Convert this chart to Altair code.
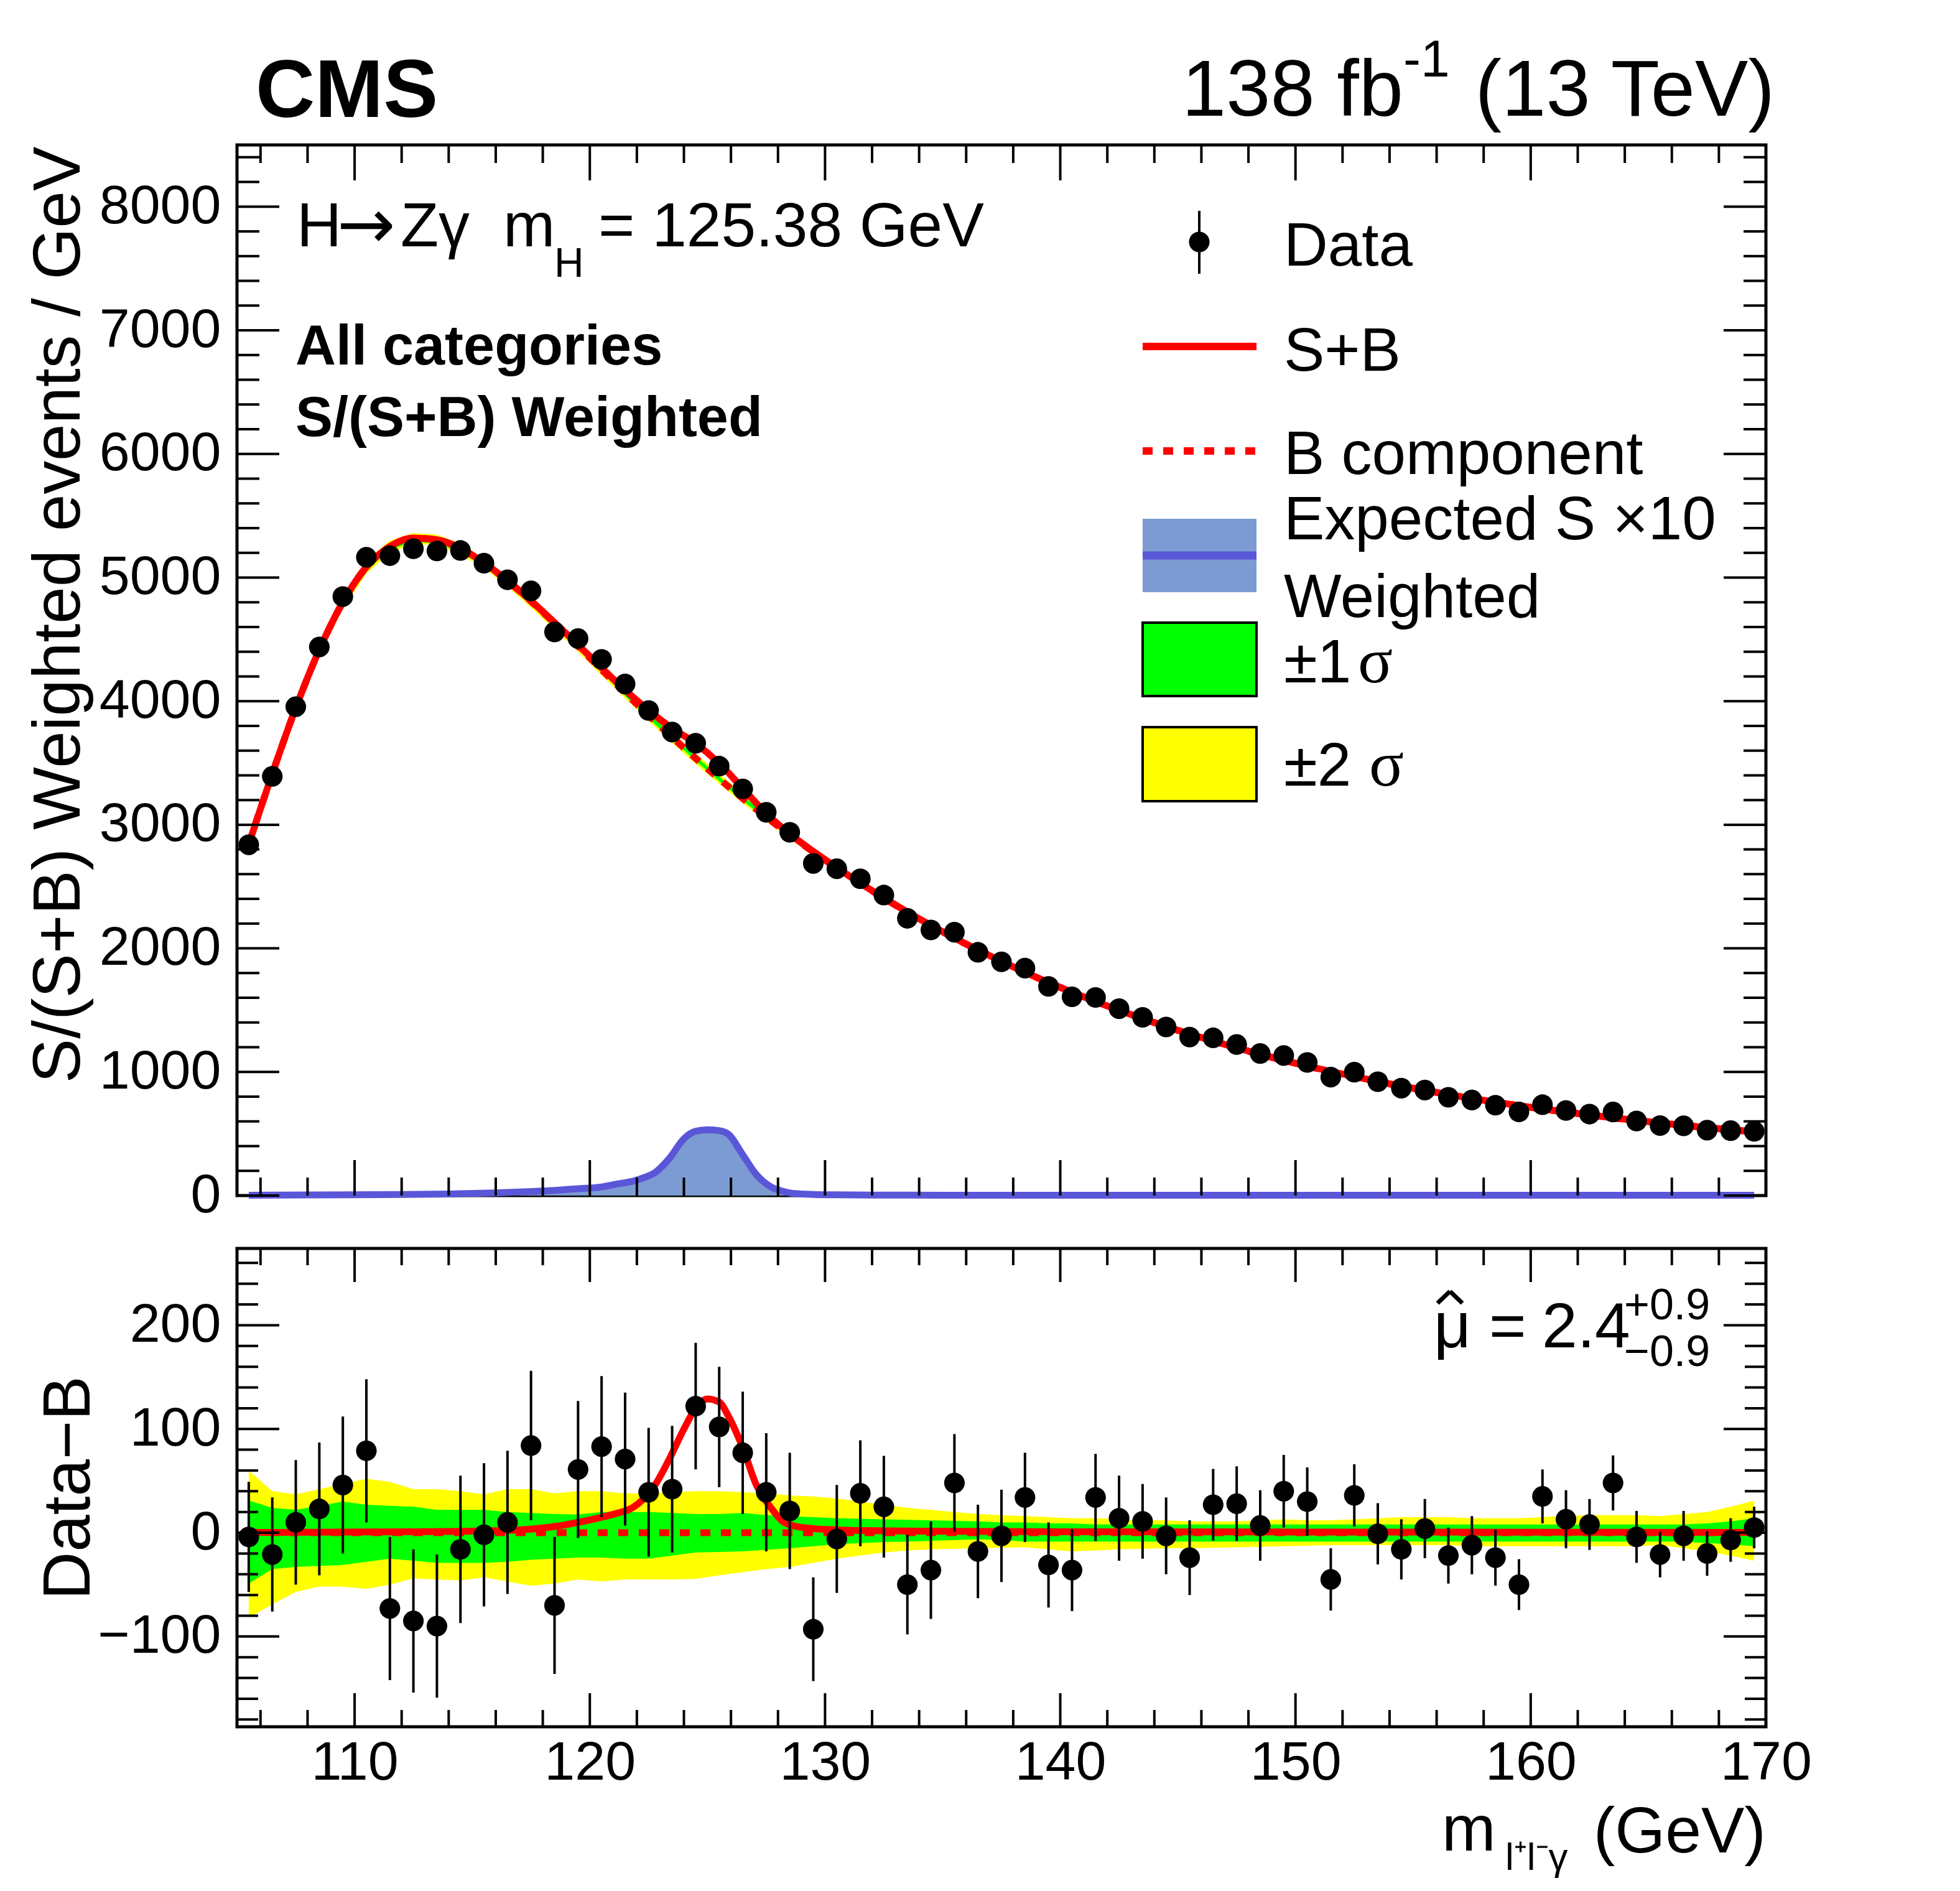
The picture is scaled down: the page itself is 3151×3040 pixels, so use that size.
import altair as alt
import pandas as pd

FONT = "Liberation Sans"

# ---------------- data ----------------
mass = [105.5, 106.5, 107.5, 108.5, 109.5, 110.5, 111.5, 112.5, 113.5, 114.5,
        115.5, 116.5, 117.5, 118.5, 119.5, 120.5, 121.5, 122.5, 123.5, 124.5,
        125.5, 126.5, 127.5, 128.5, 129.5, 130.5, 131.5, 132.5, 133.5, 134.5,
        135.5, 136.5, 137.5, 138.5, 139.5, 140.5, 141.5, 142.5, 143.5, 144.5,
        145.5, 146.5, 147.5, 148.5, 149.5, 150.5, 151.5, 152.5, 153.5, 154.5,
        155.5, 156.5, 157.5, 158.5, 159.5, 160.5, 161.5, 162.5, 163.5, 164.5,
        165.5, 166.5, 167.5, 168.5, 169.5]

data_top = [2838, 3391, 3955, 4438, 4846, 5164, 5177, 5233, 5215, 5219,
            5116, 4982, 4892, 4560, 4506, 4338, 4139, 3924, 3750, 3659,
            3474, 3290, 3101, 2939, 2687, 2644, 2563, 2431, 2243, 2149,
            2131, 1968, 1891, 1840, 1692, 1608, 1603, 1512, 1442, 1364,
            1282, 1276, 1222, 1149, 1133, 1077, 958, 998, 921, 869,
            854, 795, 773, 731, 677, 735, 688, 659, 676, 603,
            566, 564, 529, 525, 520]

data_err = [53, 55, 60, 64, 66, 69, 69, 69, 69, 71,
            69, 69, 72, 66, 66, 68, 64, 62, 61, 61,
            58, 59, 57, 56, 50, 52, 51, 49, 48, 47,
            47, 45, 44.5, 43, 41, 39.5, 42, 41, 36, 37,
            36, 34.5, 36, 34, 35, 33, 30, 30, 29.5, 29,
            28.5, 27, 28, 27, 24.5, 26, 28, 24.5, 26.5, 25,
            22, 24, 21.5, 21, 20]

data_minus_b = [-4, -21, 10, 23, 46, 79, -73, -85, -90, -16,
                -2, 10, 84, -70, 61, 83, 71, 39, 42, 122,
                102, 77, 39, 21, -93, -6, 38, 25, -50, -36,
                48, -18, -3, 34, -31, -36, 34, 14, 11, -3,
                -24, 27, 28, 7, 40, 30, -45, 36, -1, -16,
                4, -22, -12, -24, -50, 35, 13, 8, 48, -4,
                -21, -3, -20, -7, 5]

bkg_fit = [2842, 3412, 3945, 4415, 4800, 5085, 5250, 5318, 5305, 5235,
           5118, 4972, 4808, 4630, 4445, 4255, 4068, 3885, 3708, 3537,
           3372, 3213, 3062, 2918, 2780, 2650, 2525, 2406, 2293, 2185,
           2083, 1986, 1894, 1806, 1723, 1644, 1569, 1498, 1431, 1367,
           1306, 1249, 1194, 1142, 1093, 1047, 1003, 962, 922, 885,
           850, 817, 785, 755, 727, 700, 675, 651, 628, 607,
           587, 567, 549, 532, 515]

sb_fit = [2842, 3412, 3946, 4416, 4801, 5086, 5251, 5319, 5306, 5236,
          5119, 4974, 4812, 4636, 4455, 4270, 4090, 3925, 3780, 3658,
          3497, 3295, 3092, 2926, 2784, 2653, 2527, 2408, 2294, 2186,
          2084, 1987, 1895, 1807, 1724, 1645, 1570, 1499, 1432, 1368,
          1307, 1250, 1195, 1143, 1094, 1048, 1004, 963, 923, 886,
          851, 818, 786, 756, 728, 701, 676, 652, 629, 608,
          588, 568, 550, 533, 516]

band2_up = [60, 40, 37, 42, 47, 52, 49, 42, 42, 40,
            37, 42, 42, 38, 40, 40, 38, 38, 39, 40,
            40, 39, 38, 36, 35, 33, 30, 27, 24, 22,
            20, 18, 17, 16, 15, 14, 14, 13, 12, 12,
            11, 11, 11, 12, 13, 12, 12, 13, 14, 15,
            15, 15, 14, 14, 14, 15, 16, 17, 17, 17,
            16, 18, 20, 25, 31]
band1_up = [31, 24, 22, 26, 30, 27, 26, 25, 22, 22,
            22, 20, 19, 18, 17.5, 20, 20, 20, 19, 18,
            18, 19, 17, 16, 15, 14, 13.5, 13, 12.5, 12,
            11.5, 11, 10, 10, 9, 9, 8, 8, 8, 8,
            8, 8, 8, 8, 8, 8, 8, 8, 8, 8,
            8, 8, 8, 8, 8, 8, 8, 8, 8, 8,
            8, 8, 9, 11, 14]
band1_dn = [-49, -35, -33, -32, -31, -28, -25, -27, -29, -29,
            -29, -28, -26, -25, -24, -24, -25, -25, -22, -19,
            -18.5, -18, -16.5, -15, -13, -11, -10, -9, -8.5, -7.7,
            -7, -6.4, -7, -8.5, -8.5, -8.5, -8.5, -8.5, -8.5, -8.5,
            -8.5, -8.5, -8.5, -8.5, -8.5, -8.5, -8.5, -8.5, -8.5, -8.5,
            -8.5, -8.5, -8.5, -8.5, -8.5, -8.5, -8.5, -8.5, -8.5, -8.5,
            -8.5, -8.5, -10, -11, -13]
band2_dn = [-82, -69, -57, -52, -52, -54, -50, -44, -45, -46,
            -43, -47, -51, -49, -45, -47, -45, -45, -45, -44.5,
            -41, -38, -35, -33, -29, -25, -22, -19, -17, -16,
            -15.5, -15, -14.5, -14, -16, -18, -17, -16, -15.5, -15,
            -15, -14.5, -14, -13.5, -13, -12.5, -12, -12, -12, -12,
            -12, -12, -13, -13, -13, -13, -13, -13, -13, -13,
            -12, -15, -18, -22, -27]

# signal shapes on a finer grid
sig_mass = [105.5, 108, 111, 114, 116, 117.5, 118.5, 119.5, 120.5, 121.2,
            121.8, 122.3, 122.8, 123.4, 124.0, 124.5, 125.0, 125.5, 125.9, 126.5,
            127.1, 127.7, 128.2, 128.7, 129.5, 130.5, 132, 135, 140, 150,
            160, 169.5]
sig_fitted = [0.3, 0.5, 0.8, 1.2, 2.0, 3.5, 6, 10, 15, 19,
              24, 33, 47, 72, 100, 120, 129, 126, 112, 82,
              45, 24, 11, 6.5, 4, 2.8, 2, 1.4, 1.0, 0.7,
              0.5, 0.4]
sig_expected_x10 = [3, 5, 8, 13, 22, 33, 42, 55, 70, 95,
                    115, 145, 190, 305, 460, 520, 532, 525, 495, 330,
                    165, 70, 35, 16, 9, 6, 4, 3, 3, 2,
                    2, 2]

# axis ticks
x_major = [110, 120, 130, 140, 150, 160, 170]
x_minor = [106, 108, 112, 114, 116, 118, 122, 124, 126, 128, 132, 134, 136, 138,
           142, 144, 146, 148, 152, 154, 156, 158, 162, 164, 166, 168]
yt_major = [0, 1000, 2000, 3000, 4000, 5000, 6000, 7000, 8000]
yt_minor = [200, 400, 600, 800, 1200, 1400, 1600, 1800, 2200, 2400, 2600, 2800,
            3200, 3400, 3600, 3800, 4200, 4400, 4600, 4800, 5200, 5400, 5600, 5800,
            6200, 6400, 6600, 6800, 7200, 7400, 7600, 7800, 8200, 8400]
yb_major = [-100, 0, 100, 200]
yb_minor = [-180, -160, -140, -120, -80, -60, -40, -20, 20, 40, 60, 80,
            120, 140, 160, 180, 220, 240, 260]

# ---------------- tables ----------------
bins = pd.DataFrame({
    "m": mass, "d": data_top, "e": data_err, "r": data_minus_b,
    "b": bkg_fit, "sb": sb_fit,
    "u2": band2_up, "u1": band1_up, "d1": band1_dn, "d2": band2_dn,
})
bins["d_lo"] = bins["d"] - bins["e"]
bins["d_hi"] = bins["d"] + bins["e"]
bins["r_lo"] = bins["r"] - bins["e"]
bins["r_hi"] = bins["r"] + bins["e"]
bins["t2_lo"] = bins["b"] + bins["d2"]
bins["t2_hi"] = bins["b"] + bins["u2"]
bins["t1_lo"] = bins["b"] + bins["d1"]
bins["t1_hi"] = bins["b"] + bins["u1"]
sig = pd.DataFrame({"m": sig_mass, "fit": sig_fitted, "exp": sig_expected_x10})
ONE = pd.DataFrame({"k": [0]})

# ---------------- geometry / style ----------------
W, HT, HB = 2458, 1689, 769
RED = "#ff0000"
BLUE_FILL = "#7b9bd2"
BLUE_LINE = "#5a56d8"
LW = 11

xs = alt.Scale(domain=[105, 170], nice=False, zero=False)
yts = alt.Scale(domain=[0, 8500], nice=False, zero=False)
ybs = alt.Scale(domain=[-187, 274], nice=False, zero=False)

YT_AXIS = alt.Axis(values=yt_major, format="d", ticks=False, domain=False, grid=False,
                   labelFontSize=88, labelFont=FONT, labelColor="black", labelPadding=26,
                   labelOverlap=False, labelLimit=1000,
                   title="S/(S+B) Weighted events / GeV", titleFont=FONT, titleFontSize=107,
                   titleFontWeight="normal", titleColor="black", titleAngle=270,
                   titleAlign="right", titleBaseline="alphabetic", titleX=-254, titleY=2)
YB_AXIS = alt.Axis(values=yb_major, format="d", ticks=False, domain=False, grid=False,
                   labelFontSize=88, labelFont=FONT, labelColor="black", labelPadding=26,
                   labelOverlap=False, labelLimit=1000,
                   title="Data\u2212B", titleFont=FONT, titleFontSize=107,
                   titleFontWeight="normal", titleColor="black", titleAngle=270,
                   titleAlign="center", titleBaseline="alphabetic", titleX=-238, titleY=HB / 2)
XB_AXIS = alt.Axis(values=x_major, format="d", ticks=False, domain=False, grid=False,
                   labelFontSize=88, labelFont=FONT, labelColor="black", labelPadding=14,
                   labelFlush=False, labelOverlap=False, labelLimit=1000, title=None)


def xt(f):
    return alt.X(f + ":Q", scale=xs, axis=None)


def yt(f):
    return alt.Y(f + ":Q", scale=yts, axis=YT_AXIS)


def xb(f):
    return alt.X(f + ":Q", scale=xs, axis=XB_AXIS)


def yb(f):
    return alt.Y(f + ":Q", scale=ybs, axis=YB_AXIS)


def txt(s, x, y, size, weight="normal", align="left", font=FONT):
    return alt.Chart(ONE).mark_text(text=s, fontSize=size, fontWeight=weight, font=font,
                                    align=align, baseline="alphabetic", color="black").encode(
        x=alt.value(x), y=alt.value(y))


def seg(x1, y1, x2, y2, width, color="black"):
    return alt.Chart(ONE).mark_rule(color=color, strokeWidth=width).encode(
        x=alt.value(x1), y=alt.value(y1), x2=alt.value(x2), y2=alt.value(y2))


def tick_layers(xenc, yenc, H, xmaj_len, xmin_len, ymaj_len, ymin_len, ymaj, ymin):
    out = []
    for vals, L in ((x_major, xmaj_len), (x_minor, xmin_len)):
        base = alt.Chart(pd.DataFrame({"v": vals}))
        out.append(base.mark_rule(color="black", strokeWidth=4).encode(
            x=xenc("v"), y=alt.value(H), y2=alt.value(H - L)))
        out.append(base.mark_rule(color="black", strokeWidth=4).encode(
            x=xenc("v"), y=alt.value(0), y2=alt.value(L)))
    for vals, L in ((ymaj, ymaj_len), (ymin, ymin_len)):
        base = alt.Chart(pd.DataFrame({"v": vals}))
        out.append(base.mark_rule(color="black", strokeWidth=4).encode(
            y=yenc("v"), x=alt.value(0), x2=alt.value(L)))
        out.append(base.mark_rule(color="black", strokeWidth=4).encode(
            y=yenc("v"), x=alt.value(W), x2=alt.value(W - L)))
    return out


# ---------------- top panel ----------------
tb = alt.Chart(bins)
ts = alt.Chart(sig)
top_layers = [
    # pin the page layout (invisible, white)
    alt.Chart(ONE).mark_rule(color="white", strokeWidth=1).encode(
        x=alt.value(-370), x2=alt.value(-369), y=alt.value(-222)),
    tb.mark_area(color="#ffff00", opacity=1).encode(x=xt("m"), y=yt("t2_lo"), y2="t2_hi"),
    tb.mark_area(color="#00ff00", opacity=1).encode(x=xt("m"), y=yt("t1_lo"), y2="t1_hi"),
    ts.mark_area(color=BLUE_FILL, opacity=1, interpolate="monotone").encode(x=xt("m"), y=yt("exp")),
    ts.mark_line(color=BLUE_LINE, strokeWidth=LW, interpolate="monotone").encode(x=xt("m"), y=yt("exp")),
    tb.mark_line(color=RED, strokeWidth=LW, strokeDash=[16, 17], interpolate="monotone").encode(
        x=xt("m"), y=yt("b")),
    tb.mark_line(color=RED, strokeWidth=LW, interpolate="monotone").encode(x=xt("m"), y=yt("sb")),
    tb.mark_rule(color="black", strokeWidth=4).encode(x=xt("m"), y=yt("d_lo"), y2="d_hi"),
    tb.mark_circle(color="black", size=1100, opacity=1).encode(x=xt("m"), y=yt("d")),
]
top_layers += tick_layers(xt, yt, HT, 57, 29, 68, 36, yt_major, yt_minor)

# header texts
top_layers += [
    txt("CMS", 30, -45, 132, weight="bold"),
    txt("138 fb", 1519, -47, 128),
    txt("-1", 1875, -110, 84),
    txt("(13 TeV)", 2472, -47, 128, align="right"),
    txt("H", 96, 163, 100),
    txt("\u2192", 161, 166, 112, font="DejaVu Sans"),
    txt("Z\u03b3", 263, 163, 100),
    txt("m", 428, 163, 100),
    txt("H", 510, 212, 66),
    txt("= 125.38 GeV", 581, 163, 100),
    txt("All categories", 94, 353, 90, weight="bold"),
    txt("S/(S+B) Weighted", 94, 468, 90, weight="bold"),
]

# legend
LX0, LX1, LT = 1456, 1639, 1683
top_layers += [
    alt.Chart(ONE).mark_rule(color="black", strokeWidth=4).encode(
        x=alt.value(1547), y=alt.value(106), y2=alt.value(207)),
    alt.Chart(ONE).mark_circle(color="black", size=1100, opacity=1).encode(
        x=alt.value(1547), y=alt.value(156)),
    alt.Chart(ONE).mark_rule(color=RED, strokeWidth=12).encode(
        x=alt.value(LX0), x2=alt.value(LX1), y=alt.value(324)),
    alt.Chart(ONE).mark_rule(color=RED, strokeWidth=12, strokeDash=[16, 17]).encode(
        x=alt.value(LX0), x2=alt.value(LX1), y=alt.value(492)),
    alt.Chart(ONE).mark_rect(color=BLUE_FILL).encode(
        x=alt.value(LX0), x2=alt.value(LX1), y=alt.value(601), y2=alt.value(719)),
    alt.Chart(ONE).mark_rule(color=BLUE_LINE, strokeWidth=13).encode(
        x=alt.value(LX0), x2=alt.value(LX1), y=alt.value(660)),
    alt.Chart(ONE).mark_rect(fill="#00ff00", stroke="black", strokeWidth=4).encode(
        x=alt.value(LX0), x2=alt.value(LX1), y=alt.value(768), y2=alt.value(886)),
    alt.Chart(ONE).mark_rect(fill="#ffff00", stroke="black", strokeWidth=4).encode(
        x=alt.value(LX0), x2=alt.value(LX1), y=alt.value(936), y2=alt.value(1055)),
    txt("Data", LT, 194, 98),
    txt("S+B", LT, 363, 98),
    txt("B component", LT, 529, 98),
    txt("Expected S \u00d710", LT, 634, 98),
    txt("Weighted", LT, 759, 98),
    txt("\u00b11", LT, 864, 98),
    txt("\u03c3", 1802, 864, 104, font="Liberation Serif"),
    txt("\u00b12", LT, 1030, 98),
    txt("\u03c3", 1820, 1030, 104, font="Liberation Serif"),
]

top = alt.layer(*top_layers).properties(width=W, height=HT)

# ---------------- bottom panel ----------------
bb = alt.Chart(bins)
bs = alt.Chart(sig)
bot_layers = [
    bb.mark_area(color="#ffff00", opacity=1).encode(x=xb("m"), y=yb("d2"), y2="u2"),
    bb.mark_area(color="#00ff00", opacity=1).encode(x=xb("m"), y=yb("d1"), y2="u1"),
    alt.Chart(ONE).mark_rule(color=RED, strokeWidth=LW, strokeDash=[16, 17]).encode(
        x=alt.datum(105.5, scale=xs, axis=XB_AXIS), x2=alt.datum(169.5),
        y=alt.datum(0, scale=ybs, axis=YB_AXIS)),
    bs.mark_line(color=RED, strokeWidth=LW, interpolate="monotone").encode(x=xb("m"), y=yb("fit")),
    bb.mark_rule(color="black", strokeWidth=4).encode(x=xb("m"), y=yb("r_lo"), y2="r_hi"),
    bb.mark_circle(color="black", size=1100, opacity=1).encode(x=xb("m"), y=yb("r")),
]
bot_layers += tick_layers(xb, yb, HB, 54, 27, 68, 34, yb_major, yb_minor)
bot_layers += [
    txt("\u03bc", 1924, 159, 104),
    # circumflex over mu drawn as two short strokes
    seg(1930, 88, 1950, 69, 7),
    seg(1950, 69, 1970, 88, 7),
    txt("=", 2013, 159, 102),
    txt("2.4", 2098, 159, 102),
    txt("+0.9", 2230, 114, 70),
    txt("\u22120.9", 2230, 189, 70),
    txt("m", 1937, 968, 104),
    txt("l\u207al\u207b\u03b3", 2039, 999, 62),
    txt("(GeV)", W, 971, 104, align="right"),
]
bottom = alt.layer(*bot_layers).properties(width=W, height=HB)

chart = alt.vconcat(top, bottom, spacing=33).properties(
    padding=0, background="white"
).configure(font=FONT).configure_view(stroke="black", strokeWidth=5)

chart.save("out.html", embed_options={"renderer": "svg", "actions": False})
